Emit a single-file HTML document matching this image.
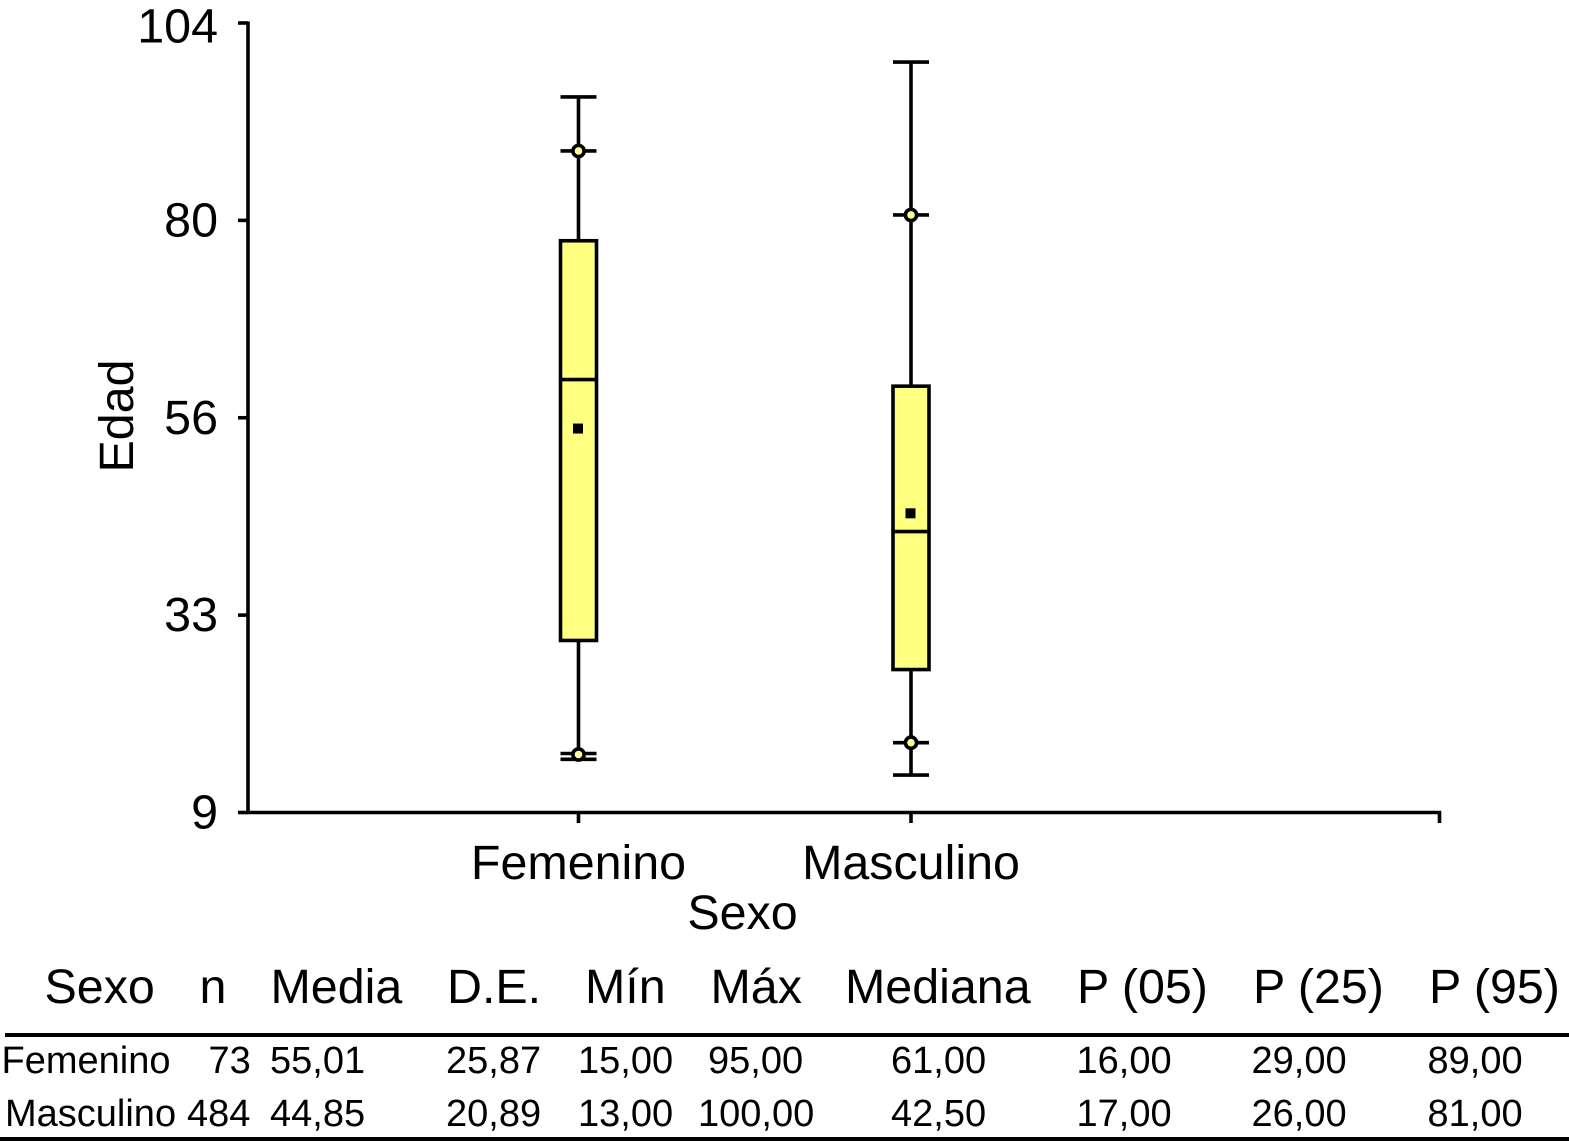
<!DOCTYPE html>
<html lang="es">
<head>
<meta charset="utf-8">
<title>Edad por sexo</title>
<style>
html,body{margin:0;padding:0;background:#fff;width:1569px;height:1142px;overflow:hidden}
svg{display:block;font-family:"Liberation Sans",Arial,sans-serif;fill:#000}
.h{font-size:48.4px}
.c{font-size:38px}
</style>
</head>
<body>
<svg id="chart" width="1569" height="1142" viewBox="0 0 1569 1142" xmlns="http://www.w3.org/2000/svg">
  <g id="plot"></g>
  <g id="stats-table">
    <text class="h" x="44.5" y="1003">Sexo</text>
    <text class="h" x="199.5" y="1003">n</text>
    <text class="h" x="270.5" y="1003">Media</text>
    <text class="h" x="447" y="1003">D.E.</text>
    <text class="h" x="585" y="1003">Mín</text>
    <text class="h" x="710.5" y="1003">Máx</text>
    <text class="h" x="845" y="1003">Mediana</text>
    <text class="h" x="1077" y="1003">P (05)</text>
    <text class="h" x="1253" y="1003">P (25)</text>
    <text class="h" x="1429" y="1003">P (95)</text>
    <rect x="5" y="1033" width="1564" height="4" fill="#000"/>
    <text class="c" x="1.5" y="1073">Femenino</text>
    <text class="c" x="208.5" y="1073">73</text>
    <text class="c" x="270" y="1073">55,01</text>
    <text class="c" x="446" y="1073">25,87</text>
    <text class="c" x="578" y="1073">15,00</text>
    <text class="c" x="708" y="1073">95,00</text>
    <text class="c" x="891" y="1073">61,00</text>
    <text class="c" x="1076.5" y="1073">16,00</text>
    <text class="c" x="1251.5" y="1073">29,00</text>
    <text class="c" x="1427.5" y="1073">89,00</text>
    <text class="c" x="5" y="1126">Masculino</text>
    <text class="c" x="187" y="1126">484</text>
    <text class="c" x="270" y="1126">44,85</text>
    <text class="c" x="446" y="1126">20,89</text>
    <text class="c" x="578" y="1126">13,00</text>
    <text class="c" x="698" y="1126">100,00</text>
    <text class="c" x="891" y="1126">42,50</text>
    <text class="c" x="1076.5" y="1126">17,00</text>
    <text class="c" x="1251.5" y="1126">26,00</text>
    <text class="c" x="1427.5" y="1126">81,00</text>
    <rect x="0" y="1137" width="1569" height="4" fill="#000"/>
  </g>
</svg>
<script>
const categories = ["Femenino", "Masculino"];
const maxValues = [95.1, 99.3];
const p95Values = [88.6, 80.9];
const q3Values = [77.8, 60.3];
const medianValues = [61.1, 42.8];
const meanValues = [55.2, 45.0];
const q1Values = [29.7, 26.2];
const p05Values = [16.1, 17.4];
const minValues = [15.4, 13.5];
const yTickValues = [9, 32.75, 56.5, 80.25, 104];
const yTickLabels = ["9", "33", "56", "80", "104"];

const plot = document.getElementById('plot');
const NS = 'http://www.w3.org/2000/svg';
const axisLeft = 248, axisRight = 1439.5, axisBottom = 812.5, axisTop = 23;
const yMin = 9, yMax = 104;
const sw = 3.6;
function y(v) { return axisBottom - (v - yMin) * (axisBottom - axisTop) / (yMax - yMin); }
function x(i) { return 578.5 + i * 332.5; }
const boxHalf = 18, capHalf = 18;

function make(tag, parent, props, text) {
  const el = document.createElementNS(NS, tag);
  for (const k in props) el.setAttribute(k, props[k]);
  if (text !== undefined) el.textContent = text;
  parent.appendChild(el);
  return el;
}
function line(parent, x1, y1, x2, y2) {
  return make('line', parent, { x1, y1, x2, y2, stroke: '#000', 'stroke-width': sw });
}

// Y axis
const yAxis = make('g', plot, {});


const yAxisLine = make('path', yAxis, { d: `M${axisLeft} ${axisTop - 1.5}V${axisBottom}`, stroke: '#000', 'stroke-width': sw, fill: 'none' });


yTickValues.forEach((v, i) => {
  const t = line(yAxis, 238, y(v), axisLeft, y(v));
  
  
  const baselineOffset = i === yTickValues.length - 1 ? 19.7 : 16;
  const l = make('text', yAxis, { x: 218, y: y(v) + baselineOffset, 'text-anchor': 'end', 'font-size': 48.4 }, yTickLabels[i]);
  
  
});
const yTitle = make('text', yAxis, { transform: 'translate(133 416) rotate(-90)', 'text-anchor': 'middle', 'font-size': 48.4 }, 'Edad');



// X axis
const xAxis = make('g', plot, {});


const xAxisLine = make('path', xAxis, { d: `M${axisLeft - 1.5} ${axisBottom}H${axisRight}V823`, stroke: '#000', 'stroke-width': sw, fill: 'none' });


categories.forEach((c, i) => {
  const t = line(xAxis, x(i), axisBottom, x(i), 823);
  
  
  const l = make('text', xAxis, { x: x(i), y: 879, 'text-anchor': 'middle', 'font-size': 48.4 }, c);
  
  
});
const xTitle = make('text', xAxis, { x: 742.5, y: 929, 'text-anchor': 'middle', 'font-size': 48.4 }, 'Sexo');



// Boxes
categories.forEach((c, i) => {
  const cx = x(i);
  const g = make('g', plot, {});
  
  

  const whisker = line(g, cx, y(maxValues[i]), cx, y(minValues[i]));
  
  

  const capMax = line(g, cx - capHalf, y(maxValues[i]), cx + capHalf, y(maxValues[i]));
  
  

  const capMin = line(g, cx - capHalf, y(minValues[i]), cx + capHalf, y(minValues[i]));
  
  

  const capP95 = line(g, cx - capHalf, y(p95Values[i]), cx + capHalf, y(p95Values[i]));
  
  

  const capP05 = line(g, cx - capHalf, y(p05Values[i]), cx + capHalf, y(p05Values[i]));
  
  

  const box = make('rect', g, {
    x: cx - boxHalf, y: y(q3Values[i]), width: boxHalf * 2,
    height: y(q1Values[i]) - y(q3Values[i]),
    fill: '#ffff80', stroke: '#000', 'stroke-width': sw
  });
  
  

  const median = line(g, cx - boxHalf, y(medianValues[i]), cx + boxHalf, y(medianValues[i]));
  
  

  const mean = make('rect', g, { x: cx - 5.5, y: y(meanValues[i]) - 5, width: 10, height: 10, fill: '#000' });
  
  

  const p95Dot = make('circle', g, { cx, cy: y(p95Values[i]), r: 5.6, fill: '#ffff99', stroke: '#000', 'stroke-width': sw });
  
  

  const p05Dot = make('circle', g, { cx, cy: y(p05Values[i]) + (i === 0 ? 1 : 0), r: 5.6, fill: '#ffff99', stroke: '#000', 'stroke-width': sw });
  
  
});
</script>
</body>
</html>
